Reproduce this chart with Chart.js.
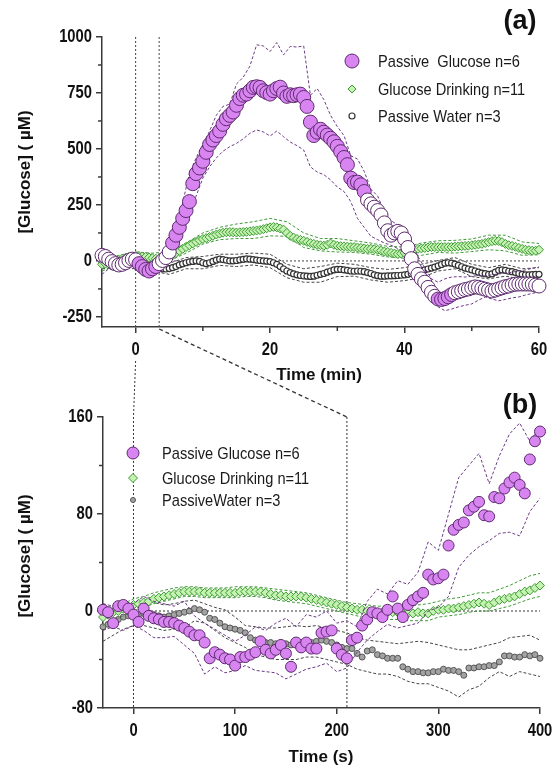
<!DOCTYPE html>
<html>
<head>
<meta charset="utf-8">
<script src="https://cdn.jsdelivr.net/npm/chart.js@4.4.1/dist/chart.umd.min.js"></script>
<style>
  html, body { margin: 0; padding: 0; background: #fff; }
  #wrap { position: relative; width: 553px; height: 770px; }
  #wrap canvas { position: absolute; left: 0; top: 0; }
</style>
</head>
<body>
<div id="wrap">
  <canvas id="chartA" width="553" height="770"></canvas>
  <canvas id="chartB" width="553" height="770"></canvas>
</div>
<script>
// ---- (a) whole session, 30 s samples, time in min ----
const timeA = Array.from({ length: 131 }, (_, i) => -5 + i * 0.5);
const passiveGlucoseA = [
  25, 20, 8, -3, -12, -18, -15, -8, 2, 8,
  5, -12, -25, -38, -45, -35, -25, -12, 2, 15,
  40, 80, 115, 150, 190, 225, 265, 345, 390, 415,
  445, 485, 520, 540, 560, 580, 610, 635, 650, 665,
  695, 725, 740, 745, 760, 775, 778, 775, 760, 752,
  745, 760, 770, 776, 750, 735, 742, 738, 742, 745,
  730, 690, 620, 560, 575, 588, 575, 562, 548, 532,
  512, 488, 462, 430, 370, 350, 352, 340, 310, 272,
  255, 240, 225, 205, 170, 135, 115, 125, 132, 125,
  98, 60, 10, -35, -60, -80, -95, -118, -140, -158,
  -170, -172, -168, -160, -150, -142, -138, -133, -128, -125,
  -120, -116, -118, -122, -126, -130, -134, -130, -125, -120,
  -115, -112, -107, -104, -103, -103, -103, -103, -104, -108,
  -112
];
const drinkingA = [
  -15, -12, -8, -5, 0, 5, 10, 14, 18, 20,
  22, 22, 20, 18, 15, 12, 10, 9, 10, 14,
  18, 25, 35, 45, 54, 62, 70, 78, 85, 92,
  98, 102, 107, 112, 118, 122, 126, 128, 129, 128,
  127, 128, 129, 130, 132, 134, 136, 138, 142, 146,
  150, 152, 150, 145, 140, 125, 112, 104, 98, 94,
  90, 85, 80, 76, 72, 70, 68, 72, 78, 72,
  68, 66, 65, 64, 62, 62, 60, 58, 56, 54,
  54, 52, 50, 46, 42, 40, 36, 33, 31, 33,
  36, 40, 45, 50, 54, 56, 58, 60, 62, 62,
  62, 62, 62, 62, 62, 64, 65, 66, 67, 68,
  70, 72, 74, 76, 80, 84, 88, 90, 89, 84,
  76, 70, 67, 63, 58, 54, 50, 48, 46, 46,
  50
];
const waterA = [
  -10, -8, -6, -5, -5, -4, -4, -5, -6, -8,
  -10, -12, -15, -18, -22, -26, -30, -33, -35, -36,
  -34, -30, -25, -18, -13, -8, -4, -2, 0, -2,
  -8, -12, -8, -2, 4, 8, 6, 3, 0, 0,
  2, 5, 7, 9, 8, 6, 4, 2, 0, -1,
  -3, -8, -15, -25, -36, -45, -52, -58, -62, -65,
  -67, -68, -69, -68, -64, -60, -56, -50, -45, -40,
  -38, -38, -40, -42, -45, -46, -45, -46, -48, -52,
  -56, -62, -66, -68, -68, -67, -67, -66, -65, -64,
  -62, -60, -56, -52, -48, -44, -40, -36, -32, -28,
  -22, -16, -10, -8, -10, -14, -20, -26, -32, -36,
  -40, -45, -50, -54, -57, -60, -58, -50, -42, -40,
  -42, -46, -48, -52, -56, -60, -62, -62, -61, -60,
  -60
];
// SEM envelopes for (a)
const bandTimeA1 = Array.from({ length: 66 }, (_, i) => -5 + i);
const passiveGlucoseHiA = [
  50, 35, 15, 10, 25, 30, 0, -15, 0, 30,
  70, 160, 260, 390, 460, 520, 580, 650, 690, 700,
  790, 820, 870, 965, 960, 935, 975, 920, 958, 955,
  960, 740, 770, 720, 650, 600, 560, 470, 455, 400,
  320, 290, 220, 180, 160, 140, 80, 20, -30, -80,
  -95, -80, -72, -70, -72, -68, -66, -67, -62, -58,
  -55, -50, -45, -40, -33, -27
];
const passiveGlucoseLoA = [
  -60, -35, -45, -40, -20, -20, -50, -70, -55, -35,
  -10, 60, 130, 200, 290, 370, 420, 460, 490, 510,
  525, 545, 570, 585, 576, 558, 580, 555, 531, 515,
  495, 420, 397, 385, 362, 330, 310, 265, 190, 150,
  110, 95, 80, 70, 55, 40, -20, -80, -130, -180,
  -205, -222, -215, -205, -198, -192, -175, -161, -170, -178,
  -172, -165, -161, -152, -145, -138
];
const bandTimeA2 = Array.from({ length: 27 }, (_, i) => -5 + i * 2.5);
const drinkingHiA = [5, 25, 40, 35, 40, 80, 125, 150, 165, 175, 190, 175, 125, 100, 100, 90, 80, 65, 62, 80, 90, 92, 98, 115, 115, 85, 78];
const drinkingLoA = [-45, -15, 5, 0, 0, 35, 75, 95, 100, 100, 112, 110, 60, 45, 40, 38, 30, 18, 12, 25, 38, 35, 42, 50, 45, 25, 28];
const waterHiA = [15, 20, 15, 0, -10, 15, 20, 30, 30, 35, 30, -15, -35, -25, -10, -15, -30, -38, -30, -15, 2, 15, -15, -30, -15, -35, -30];
const waterLoA = [-35, -30, -35, -45, -60, -35, -35, -20, -25, -18, -30, -75, -95, -95, -70, -68, -85, -95, -88, -75, -45, -35, -70, -80, -68, -82, -88];

// ---- (b) first minutes, 5 s samples, time in s ----
const timeB = Array.from({ length: 87 }, (_, i) => -30 + i * 5);
const passiveGlucoseB = [
  1, -1, -10, 4, 5, 2, -3, -9, 2, -4,
  -6, -7, -9, -9, -10, -12, -14, -17, -20, -20,
  -26, -39, -34, -36, -39, -40, -45, -38, -38, -36,
  -34, -25, -32, -35, -32, -28, -35, -46, -26, -30,
  -26, -31, -31, -18, -17, -16, -31, -36, -39, -24,
  -22, -12, -7, -1, -2, -5, 1, 12, 2, -5,
  5, 9, 12, 15, 30, 26, 27, 30, 54, 67,
  71, 73, 83, 86, 90, 79, 78, 94, 93, 101,
  106, 110, 104, 97, 125, 140, 148
];
const drinkingB = [
  -5, -3, -1, 0, 2, 3, 5, 6, 7, 8,
  10, 11, 12, 13, 14, 15, 16, 16, 16, 16,
  15, 15, 15, 15, 15, 15, 15, 16, 16, 16,
  16, 16, 15, 14, 13, 13, 12, 12, 12, 12,
  11, 10, 9, 8, 7, 6, 5, 4, 3, 2,
  1, 1, 0, -1, -1, -1, -1, -1, -1, -2,
  -2, -2, -1, -2, -2, 0, 1, 1, 2, 2,
  3, 4, 5, 6, 7, 6, 5, 7, 9, 10,
  11, 12, 14, 16, 17, 19, 21
];
const waterB = [
  -13, -11, -9, -7, -5, -4, -3, -3, -2, -2,
  -3, -4, -5, -4, -3, -2, -1, 0, 2, 1,
  -1, -6, -7, -10, -13, -14, -15, -16, -18, -22,
  -24, -25, -26, -26, -27, -27, -27, -28, -27, -26,
  -26, -26, -25, -24, -25, -26, -28, -30, -31, -31,
  -35, -38, -33, -32, -36, -37, -39, -39, -39, -46,
  -48, -50, -50, -51, -51, -50, -50, -48, -49, -49,
  -50, -53, -47, -47, -46, -46, -45, -45, -42, -37,
  -37, -38, -38, -36, -37, -36, -39
];
// SEM envelopes for (b)
const bandTimeB = Array.from({ length: 44 }, (_, i) => -30 + i * 10);
const passiveGlucoseHiB = [6, 4, 8, 6, 12, 8, 6, 4, 8, -4, -10, -15, -20, -25, -20, -13, -16, -10, -6, -13, -3, -5, 0, -10, -8, -13, 8, 18, 14, 25, 22, 32, 57, 50, 80, 110, 120, 130, 105, 128, 146, 155, 140, 152];
const passiveGlucoseLoB = [-16, -13, -16, -12, -16, -22, -22, -21, -28, -35, -52, -46, -51, -49, -45, -49, -50, -51, -56, -52, -48, -46, -43, -50, -47, -34, -24, -17, -11, -14, -12, -10, 0, 3, 12, 36, 46, 53, 58, 64, 65, 62, 82, 93];
const drinkingHiB = [2, 4, 6, 10, 12, 15, 17, 19, 20, 20, 19, 19, 19, 20, 20, 20, 19, 18, 17, 16, 15, 13, 11, 9, 7, 6, 5, 4, 4, 4, 4, 5, 6, 8, 10, 11, 13, 15, 15, 18, 21, 25, 29, 31];
const drinkingLoB = [-12, -8, -4, 0, 3, 6, 8, 10, 12, 12, 11, 11, 11, 11, 12, 12, 11, 9, 8, 7, 6, 4, 2, 0, -2, -4, -6, -6, -7, -7, -8, -8, -8, -5, -4, -3, -1, 0, 0, 2, 4, 7, 10, 12];
const waterHiB = [-2, 2, 5, 6, 8, 7, 5, 6, 8, 9, 6, 3, 1, -5, -12, -13, -14, -14, -13, -12, -13, -12, -14, -16, -18, -22, -24, -25, -26, -27, -26, -25, -26, -28, -30, -32, -32, -30, -28, -26, -22, -21, -20, -24];
const waterLoB = [-25, -20, -15, -12, -12, -14, -16, -15, -14, -8, -10, -16, -22, -26, -30, -36, -38, -40, -40, -40, -38, -38, -40, -42, -44, -48, -50, -52, -52, -54, -58, -60, -60, -63, -66, -71, -65, -62, -55, -50, -54, -50, -52, -54];

// axis ticks
const xTicksA = [0, 20, 40, 60], yTicksA = [-250, 0, 250, 500, 750, 1000];
const xMinorA = [10, 30, 50], yMinorA = [-125, 125, 375, 625, 875];
const xTicksB = [0, 100, 200, 300, 400], yTicksB = [-80, 0, 80, 160];
const yMinorB = [-40, 40, 120];

// zoom window shown in (b)
const zoomStartMin = 0, zoomEndMin = 3.5, zoomEndSec = 210;
// periods where the passive glucose trace is drawn solid in (a)
const solidSpansA = [[0.3, 3.3], [5.3, 34.3], [44.8, 47.3]];

const legendA = ['Passive  Glucose n=6', 'Glucose Drinking n=11', 'Passive Water n=3'];
const legendB = ['Passive Glucose n=6', 'Glucose Drinking n=11', 'PassiveWater n=3'];

// ---- styling ----
const fontFamily = "'Liberation Sans', Arial, sans-serif";
const narrow = 0.82;   // horizontal squeeze for the condensed labels
const axisColor = '#3a3a3a';
const purple = '#d885f2', purpleEdge = '#5e2a6e', purpleBand = '#6c3a86';
const green = '#c4f2b0', greenEdge = '#3f9a36', greenBand = '#3f9a36';
const waterEdge = '#333', waterBand = '#444';

const styleA = [
  { shape: 'circle', r: 7, bw: 1, fill: c => solidSpansA.some(s => c.raw && c.raw.x >= s[0] && c.raw.x <= s[1]) ? purple : '#fff', edge: purpleEdge },
  { shape: 'rectRot', r: 4.5, bw: 1, fill: green, edge: greenEdge },
  { shape: 'circle', r: 3, bw: 1.2, fill: '#fff', edge: waterEdge }
];
const styleB = [
  { shape: 'circle', r: 5.5, bw: 1, fill: purple, edge: purpleEdge },
  { shape: 'rectRot', r: 4.5, bw: 1, fill: green, edge: greenEdge },
  { shape: 'circle', r: 3, bw: 1, fill: '#a3a3a3', edge: '#555' }
];

function pts(xs, ys) { return ys.map((y, i) => ({ x: xs[i], y })); }

function markers(data, s, order) {
  return {
    data, order, showLine: false, clip: false,
    pointStyle: s.shape, pointRadius: s.r, pointHoverRadius: s.r, pointBorderWidth: s.bw,
    pointBackgroundColor: s.fill, pointBorderColor: s.edge
  };
}
function band(data, color, order) {
  return {
    data, order, showLine: true, pointRadius: 0, fill: false, tension: 0,
    borderColor: color, borderWidth: 1, borderDash: [3, 2]
  };
}

// labels are drawn by the decor plugins, the scale only keeps ticks and border
function linearAxis(min, max, tickValues, fit) {
  return {
    type: 'linear', min, max,
    afterBuildTicks: s => { s.ticks = tickValues.map(v => ({ value: v })); },
    afterFit: fit,
    grid: { display: true, drawOnChartArea: false, drawTicks: true, tickLength: 6, color: axisColor, lineWidth: 1.5 },
    border: { display: true, color: axisColor, width: 1.5 },
    ticks: { display: false }
  };
}

function line(ctx, x1, y1, x2, y2) {
  ctx.beginPath(); ctx.moveTo(x1, y1); ctx.lineTo(x2, y2); ctx.stroke();
}

function drawText(ctx, text, x, y, font, opts = {}) {
  ctx.save();
  ctx.font = font; ctx.fillStyle = opts.color || '#111';
  ctx.textAlign = opts.align || 'center'; ctx.textBaseline = 'middle';
  ctx.translate(x, y);
  if (opts.rot) ctx.rotate(opts.rot);
  if (opts.sx) ctx.scale(opts.sx, 1);
  ctx.fillText(text, 0, 0);
  ctx.restore();
}

function axisDecor(chart, xt, yt, xm, ym) {
  const { ctx, chartArea: a, scales: { x, y } } = chart;
  ctx.save();
  ctx.strokeStyle = axisColor; ctx.lineWidth = 1.5;
  xm.forEach(v => { const p = x.getPixelForValue(v); line(ctx, p, a.bottom, p, a.bottom + 4); });
  ym.forEach(v => { const p = y.getPixelForValue(v); line(ctx, a.left - 4, p, a.left, p); });
  ctx.restore();
  const f = 'bold 18px ' + fontFamily;
  xt.forEach(v => drawText(ctx, String(v), x.getPixelForValue(v), a.bottom + 23, f, { sx: narrow }));
  yt.forEach(v => drawText(ctx, String(v), a.left - 10, y.getPixelForValue(v), f, { sx: narrow, align: 'right' }));
}

function drawLegend(ctx, labels, styles, mx, tx, rows, sizes) {
  labels.forEach((lab, i) => {
    const s = styles[i];
    ctx.save();
    ctx.fillStyle = typeof s.fill === 'function' ? purple : s.fill;
    ctx.strokeStyle = s.edge; ctx.lineWidth = s.bw;
    Chart.helpers.drawPoint(ctx, { pointStyle: s.shape, radius: sizes[i], rotation: 0, borderWidth: s.bw }, mx, rows[i]);
    ctx.restore();
    drawText(ctx, lab, tx, rows[i] + 1, '17px ' + fontFamily, { align: 'left', sx: 0.86, color: '#1a1a1a' });
  });
}

const yTitle = '[Glucose] ( \u00B5M)';

const decorA = {
  id: 'decorA',
  beforeDatasetsDraw(chart) {
    const { ctx, chartArea: a, scales: { x, y } } = chart;
    ctx.save();
    ctx.strokeStyle = '#444'; ctx.lineWidth = 1; ctx.setLineDash([2, 2]);
    const y0 = y.getPixelForValue(0);
    line(ctx, a.left, y0, a.right, y0);
    [zoomStartMin, zoomEndMin].forEach(t => {
      const p = x.getPixelForValue(t);
      line(ctx, p, a.top, p, a.bottom);
    });
    ctx.restore();
  },
  afterDraw(chart) {
    const ctx = chart.ctx;
    axisDecor(chart, xTicksA, yTicksA, xMinorA, yMinorA);
    drawText(ctx, yTitle, 25, 172, 'bold 17px ' + fontFamily, { rot: -Math.PI / 2 });
    drawText(ctx, 'Time (min)', 319, 375, 'bold 17px ' + fontFamily);
    drawText(ctx, '(a)', 520, 22, 'bold 27px ' + fontFamily);
    drawLegend(ctx, legendA, styleA, 352, 378, [61, 89, 116], [7, 4, 3]);
  }
};

const decorB = {
  id: 'decorB',
  beforeDatasetsDraw(chart) {
    const { ctx, chartArea: b, scales: { x, y } } = chart;
    const ax = chartA.scales.x, aArea = chartA.chartArea;
    ctx.save();
    ctx.strokeStyle = '#333'; ctx.lineWidth = 1;
    ctx.setLineDash([2, 2]);
    const y0 = y.getPixelForValue(0);
    line(ctx, b.left, y0, b.right, y0);
    // time zero carried down from (a)
    const xa0 = ax.getPixelForValue(zoomStartMin), xb0 = x.getPixelForValue(0);
    ctx.beginPath();
    ctx.moveTo(xa0, aArea.bottom + 34);
    ctx.lineTo(xb0, b.top);
    ctx.lineTo(xb0, b.bottom);
    ctx.stroke();
    // end of the zoomed window
    const xa1 = ax.getPixelForValue(zoomEndMin), xb1 = x.getPixelForValue(zoomEndSec);
    line(ctx, xb1, b.top, xb1, b.bottom);
    ctx.setLineDash([4, 3]); ctx.lineWidth = 1.3;
    line(ctx, xa1, aArea.bottom + 2, xb1, b.top);
    ctx.restore();
  },
  afterDraw(chart) {
    const ctx = chart.ctx;
    axisDecor(chart, xTicksB, yTicksB, [], yMinorB);
    drawText(ctx, yTitle, 25, 556, 'bold 17px ' + fontFamily, { rot: -Math.PI / 2 });
    drawText(ctx, 'Time (s)', 321, 757, 'bold 17px ' + fontFamily);
    drawText(ctx, '(b)', 520, 406, 'bold 27px ' + fontFamily);
    drawLegend(ctx, legendB, styleB, 133, 162, [453, 478, 500], [6, 4.5, 2.5]);
  }
};

const baseOptions = {
  responsive: false,
  animation: false,
  events: [],
  plugins: { legend: { display: false }, tooltip: { enabled: false } }
};

const chartA = new Chart(document.getElementById('chartA'), {
  type: 'line',
  data: {
    datasets: [
      markers(pts(timeA, passiveGlucoseA), styleA[0], 0),
      band(pts(bandTimeA1, passiveGlucoseHiA), purpleBand, 1),
      band(pts(bandTimeA1, passiveGlucoseLoA), purpleBand, 1),
      markers(pts(timeA, drinkingA), styleA[1], 2),
      band(pts(bandTimeA2, drinkingHiA), greenBand, 3),
      band(pts(bandTimeA2, drinkingLoA), greenBand, 3),
      markers(pts(timeA, waterA), styleA[2], 4),
      band(pts(bandTimeA2, waterHiA), waterBand, 5),
      band(pts(bandTimeA2, waterLoA), waterBand, 5)
    ]
  },
  options: {
    ...baseOptions,
    layout: { padding: { left: 0, right: 14, top: 37, bottom: 413 } },
    scales: {
      x: linearAxis(-5, 60, xTicksA, s => { s.height = 30; }),
      y: linearAxis(-295, 1000, yTicksA, s => { s.width = 102; })
    }
  },
  plugins: [decorA]
});

const chartB = new Chart(document.getElementById('chartB'), {
  type: 'line',
  data: {
    datasets: [
      markers(pts(timeB, passiveGlucoseB), styleB[0], 0),
      band(pts(bandTimeB, passiveGlucoseHiB), purpleBand, 1),
      band(pts(bandTimeB, passiveGlucoseLoB), purpleBand, 1),
      markers(pts(timeB, drinkingB), styleB[1], 2),
      band(pts(bandTimeB, drinkingHiB), greenBand, 3),
      band(pts(bandTimeB, drinkingLoB), greenBand, 3),
      markers(pts(timeB, waterB), styleB[2], 4),
      band(pts(bandTimeB, waterHiB), waterBand, 5),
      band(pts(bandTimeB, waterLoB), waterBand, 5)
    ]
  },
  options: {
    ...baseOptions,
    layout: { padding: { left: 0, right: 13, top: 417, bottom: 32 } },
    scales: {
      x: linearAxis(-30, 400, xTicksB, s => { s.height = 30; }),
      y: linearAxis(-80, 160, yTicksB, s => { s.width = 103; })
    }
  },
  plugins: [decorB]
});
</script>
</body>
</html>
